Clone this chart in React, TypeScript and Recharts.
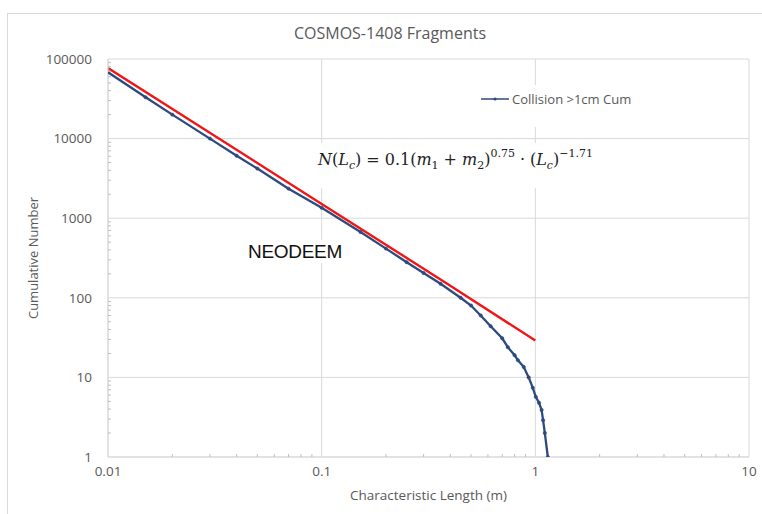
import React from 'react';
import { LineChart, Line, XAxis, YAxis, ReferenceLine, Legend, Label } from 'recharts';

// axis ticks
const lengthTicks = [0.01, 0.1, 1, 10];
const lengthMinor = [
  0.02, 0.03, 0.04, 0.05, 0.06, 0.07, 0.08, 0.09,
  0.2, 0.3, 0.4, 0.5, 0.6, 0.7, 0.8, 0.9,
  2, 3, 4, 5, 6, 7, 8, 9,
];
const countTicks = [1, 10, 100, 1000, 10000, 100000];
const countMinor = [
  2, 3, 4, 5, 6, 7, 8, 9,
  20, 30, 40, 50, 60, 70, 80, 90,
  200, 300, 400, 500, 600, 700, 800, 900,
  2000, 3000, 4000, 5000, 6000, 7000, 8000, 9000,
  20000, 30000, 40000, 50000, 60000, 70000, 80000, 90000,
];

// Collision >1cm Cum
const collisionLength = [
  0.01, 0.015, 0.02, 0.03, 0.04, 0.05, 0.07, 0.1, 0.152, 0.2, 0.25, 0.3, 0.36, 0.447,
  0.5, 0.555, 0.618, 0.7, 0.743, 0.8, 0.828, 0.883, 0.931, 0.973, 1.005, 1.04, 1.07,
  1.087, 1.108, 1.144,
];
const collisionCount = [
  68000, 33000, 20000, 10000, 6100, 4200, 2350, 1350, 670, 415, 280, 205, 150, 100,
  80, 60, 44, 31, 24, 19, 16.5, 13.5, 10, 7.4, 5.7, 4.8, 3.9,
  2.9, 2, 1,
];

// power-law fit (red)
const fitLength = [0.01, 0.1, 0.4, 1];
const fitCount = [77000, 1510, 142, 29];

const collisionData = collisionLength.map((length, i) => ({ length, count: collisionCount[i] }));
const fitData = fitLength.map((length, i) => ({ length, count: fitCount[i] }));

const BLUE = '#2c4a7e';
const RED = '#f21515';
const GRID = '#d9d9d9';
const TEXT = '#595959';
const FONT = '"Open Sans", sans-serif';

const fmt = (v: number) => (v < 1 ? String(v) : String(Math.round(v)));

const XTick = (props: any) => {
  const { x, y, payload } = props;
  const v = payload.value;
  if (lengthTicks.includes(v)) {
    return (
      <text x={x} y={y + 19} textAnchor="middle" fill={TEXT} fontSize={13.5} fontFamily={FONT}>
        {fmt(v)}
      </text>
    );
  }
  return <line x1={x} x2={x} y1={y - 3} y2={y} stroke="#bfbfbf" />;
};

const YTick = (props: any) => {
  const { x, y, payload } = props;
  const v = payload.value;
  if (countTicks.includes(v)) {
    return (
      <text x={x - 16} y={y} dy="0.35em" textAnchor="end" fill={TEXT} fontSize={13.5} fontFamily={FONT}>
        {fmt(v)}
      </text>
    );
  }
  return <line x1={x} x2={x + 3} y1={y} y2={y} stroke="#bfbfbf" />;
};

const LegendContent = ({ payload }: any) => (
  <div style={{ background: '#fff', width: 170, height: 42, boxSizing: 'border-box', paddingTop: 5, paddingLeft: 11 }}>
    {(payload || [])
      .filter((entry: any) => entry.type !== 'none')
      .map((entry: any) => (
        <div key={entry.value} style={{ display: 'flex', alignItems: 'center', height: 18 }}>
          <svg width={28} height={6} style={{ marginRight: 3 }}>
            <line x1={0} x2={28} y1={3} y2={3} stroke={entry.color} strokeWidth={1.5} />
            <circle cx={14} cy={3} r={1.6} fill={entry.color} />
          </svg>
          <span style={{ fontFamily: FONT, fontSize: 13, color: TEXT }}>{entry.value}</span>
        </div>
      ))}
  </div>
);

const sub: React.CSSProperties = { fontSize: 11, verticalAlign: 'baseline', position: 'relative', top: 4 };
const sup: React.CSSProperties = { fontSize: 11, verticalAlign: 'baseline', position: 'relative', top: -8 };
const op: React.CSSProperties = { margin: '0 5px' };

export default function App() {
  return (
    <div style={{ position: 'absolute', left: 0, top: 0, width: 762, height: 514, overflow: 'hidden', background: '#fff' }}>
      <div
        style={{
          position: 'absolute', left: 7, top: 13, right: 0, bottom: 0,
          borderLeft: `1px solid ${GRID}`, borderTop: `1px solid ${GRID}`,
        }}
      />
      <div
        style={{
          position: 'absolute', left: 240, width: 300, top: 22, lineHeight: '22px', textAlign: 'center',
          fontFamily: FONT, fontSize: 16, color: TEXT,
        }}
      >
        COSMOS-1408 Fragments
      </div>
      <div style={{ position: 'absolute', left: 0, top: 0 }}>
        <LineChart width={762} height={514} margin={{ top: 59, right: 13, bottom: 12, left: 0 }}>
          {lengthTicks.map((v) => (
            <ReferenceLine key={'gx' + v} x={v} stroke={GRID} strokeWidth={1} />
          ))}
          {countTicks.map((v) => (
            <ReferenceLine key={'gy' + v} y={v} stroke={GRID} strokeWidth={1} />
          ))}
          <XAxis
            type="number"
            dataKey="length"
            scale="log"
            domain={[0.01, 10]}
            allowDataOverflow
            ticks={[...lengthTicks, ...lengthMinor]}
            interval={0}
            tickSize={0}
            tickMargin={0}
            tick={<XTick />}
            height={45}
            axisLine={{ stroke: GRID }}
            tickLine={false}
          >
            <Label
              content={({ viewBox }: any) => (
                <text
                  x={viewBox.x + viewBox.width / 2}
                  y={viewBox.y + 38}
                  dy="0.35em"
                  textAnchor="middle"
                  fill={TEXT}
                  fontSize={13.5}
                  fontFamily={FONT}
                >
                  Characteristic Length (m)
                </text>
              )}
            />
          </XAxis>
          <YAxis
            type="number"
            dataKey="count"
            scale="log"
            domain={[1, 100000]}
            allowDataOverflow
            ticks={[...countTicks, ...countMinor]}
            interval={0}
            tickSize={0}
            tickMargin={0}
            tick={<YTick />}
            width={108}
            axisLine={{ stroke: GRID }}
            tickLine={false}
          >
            <Label
              content={({ viewBox }: any) => {
                const cx = viewBox.x + 33;
                const cy = viewBox.y + viewBox.height / 2;
                return (
                  <text
                    x={cx}
                    y={cy}
                    dy="0.35em"
                    transform={`rotate(-90, ${cx}, ${cy})`}
                    textAnchor="middle"
                    fill={TEXT}
                    fontSize={13}
                    fontFamily={FONT}
                  >
                    Cumulative Number
                  </text>
                );
              }}
            />
          </YAxis>
          <Legend
            layout="vertical"
            align="center"
            verticalAlign="middle"
            content={<LegendContent />}
            wrapperStyle={{ left: 470, top: 85, width: 170, height: 42 }}
          />
          <Line
            data={fitData}
            dataKey="count"
            name="Power law"
            stroke={RED}
            strokeWidth={2.4}
            dot={false}
            legendType="none"
            isAnimationActive={false}
          />
          <Line
            data={collisionData}
            dataKey="count"
            name="Collision >1cm Cum"
            stroke={BLUE}
            strokeWidth={2.3}
            dot={{ r: 1.7, fill: BLUE, stroke: BLUE, strokeWidth: 0.5 }}
            isAnimationActive={false}
          />
        </LineChart>
      </div>
      <div
        style={{
          position: 'absolute', left: 314, top: 143, width: 292, height: 45, background: '#fff',
          boxSizing: 'border-box', paddingLeft: 4, paddingTop: 7, lineHeight: '20px',
          fontFamily: '"DejaVu Serif", "Liberation Serif", serif', fontSize: 16, color: '#222', whiteSpace: 'nowrap',
        }}
      >
        <i>N</i>(<i>L</i><span style={sub}><i>c</i></span>)<span style={op}>=</span>0.1(<i>m</i>
        <span style={sub}>1</span><span style={op}>+</span><i>m</i><span style={sub}>2</span>)
        <span style={sup}>0.75</span><span style={op}>·</span>(<i>L</i><span style={sub}><i>c</i></span>)
        <span style={sup}>−1.71</span>
      </div>
      <div
        style={{
          position: 'absolute', left: 244, top: 240, height: 23, lineHeight: '23px', background: '#fff',
          paddingLeft: 4, paddingRight: 6,
          fontFamily: '"Liberation Sans", Arial, sans-serif', fontSize: 19, color: '#111', letterSpacing: -0.3,
        }}
      >
        NEODEEM
      </div>
    </div>
  );
}
